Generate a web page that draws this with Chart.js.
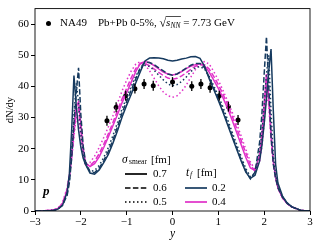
<!DOCTYPE html>
<html>
<head>
<meta charset="utf-8">
<script src="https://cdn.jsdelivr.net/npm/chart.js@4.4.1/dist/chart.umd.min.js"></script>
<style>
  html, body { margin: 0; padding: 0; background: #fff; }
  canvas { display: block; }
</style>
</head>
<body>
<canvas id="myChart" width="319" height="245"></canvas>
<script>
// rapidity grid shared by all model curves
const rapidity = [-3.0, -2.8, -2.6, -2.5, -2.4, -2.3, -2.25, -2.2, -2.15, -2.1, -2.05, -2.0, -1.95, -1.9,
  -1.8, -1.7, -1.6, -1.5, -1.4, -1.3, -1.2, -1.1, -1.0, -0.9, -0.8, -0.7, -0.6, -0.5, -0.4, -0.3, -0.2, -0.1,
  0.0, 0.1, 0.2, 0.3, 0.4, 0.5, 0.6, 0.7, 0.8, 0.9, 1.0, 1.1, 1.2, 1.3, 1.4, 1.5, 1.6, 1.7, 1.8, 1.9,
  1.95, 2.0, 2.05, 2.1, 2.15, 2.2, 2.25, 2.3, 2.4, 2.5, 2.6, 2.8, 3.0];

// t_f = 0.2 fm
const s07tf02 = [0, 0.05, 0.2, 0.6, 1.8, 6, 12, 26, 43.5, 34, 26, 20.5, 17, 15,
  12.2, 11.8, 13.2, 15.5, 18.2, 21.8, 25.8, 30.2, 34, 37.5, 41.2, 44.8, 48.2, 49.1, 49.2, 49.1, 48.9, 48.4,
  48.2, 48.4, 48.8, 49.1, 49.5, 49.6, 49.0, 46.5, 42.5, 39, 35.5, 31.8, 27.8, 23.8, 19.8, 16, 12.5, 10.5, 11.5, 16,
  21, 28, 36, 45, 52, 32, 15, 9, 4.8, 2.6, 1.4, 0.2, 0];
const s06tf02 = [0, 0.05, 0.2, 0.6, 1.8, 5, 9, 17, 28, 38, 46, 31, 21, 16,
  12.5, 12.3, 13.8, 16.2, 19.2, 22.8, 27, 31.5, 35.2, 38.8, 42.5, 46, 47.8, 47.7, 47, 46, 45, 44,
  43.6, 44, 44.9, 45.9, 46.8, 47.4, 47.4, 46, 43, 39.5, 36, 32.3, 28.3, 24.3, 20.3, 16.3, 12.8, 10.3, 12.5, 22,
  31, 44, 56, 40, 24, 15, 10.5, 7.5, 4.4, 2.5, 1.3, 0.2, 0];
const s05tf02 = [0, 0.05, 0.2, 0.6, 1.9, 5.5, 10, 19, 31, 41, 35, 25, 18.5, 15,
  12.8, 13, 14.6, 17.2, 20.4, 24.2, 28.4, 32.8, 36.4, 40, 43.4, 45.8, 46.8, 46.4, 45.2, 43.6, 42.1, 40.8,
  40.2, 40.6, 41.6, 43, 44.8, 46, 46.4, 45.6, 43.2, 40.2, 37, 33.4, 29.4, 25.4, 21.4, 17.4, 13.6, 11, 12.2, 19,
  25, 34, 44, 50, 32, 18, 11.5, 8, 4.6, 2.6, 1.4, 0.2, 0];

// t_f = 0.4 fm
const s07tf04 = [0, 0.05, 0.3, 0.8, 2.2, 6.5, 11, 18, 27, 33.5, 35, 28, 20.5, 15.5,
  14.3, 15.2, 17.4, 20.4, 23.8, 27.4, 31, 34.8, 38, 41.4, 44.8, 47.4, 48, 47.6, 46.7, 45.6, 44.6, 44,
  43.7, 44, 44.8, 45.7, 46.5, 47, 47.3, 46.6, 44.6, 42, 39.4, 36.4, 33, 29.2, 25.2, 21.2, 17.2, 13.8, 13, 18,
  24, 34, 44, 37, 25, 16, 11, 7.5, 4.2, 2.4, 1.3, 0.2, 0];
const s06tf04 = [0, 0.05, 0.3, 0.8, 2.4, 7, 11, 17, 25, 32, 33, 26, 19, 15,
  14.6, 16, 18.4, 21.4, 24.8, 28.4, 32.2, 36, 39.4, 42.8, 45.8, 47.4, 47.4, 46.6, 45.6, 44.5, 43.5, 42.7,
  42.3, 42.6, 43.4, 44.4, 45.5, 46.5, 47, 47, 45.6, 43.2, 40.6, 37.6, 34.2, 30.6, 26.6, 22.6, 18.6, 14.8, 12.8, 16.5,
  22.5, 32, 42, 36, 24, 15.5, 10.5, 7.5, 4.2, 2.4, 1.3, 0.2, 0];
const s05tf04 = [0, 0.05, 0.3, 0.9, 2.6, 7.5, 11.5, 17, 24, 30, 29.5, 23, 18, 15.5,
  15.6, 17.6, 20.4, 23.6, 27, 30.6, 34.6, 38.6, 42, 45, 47.2, 48, 47, 45, 42.6, 40.2, 38.2, 37,
  36.5, 37, 38.4, 40.4, 43, 45.4, 47.2, 48, 47.2, 44.8, 42, 38.8, 35.4, 31.8, 28, 24, 19.8, 15.8, 13.2, 16,
  20.5, 28, 38, 34, 23, 15, 10.5, 7.5, 4.2, 2.4, 1.3, 0.2, 0];

// NA49 data points
const na49Rap = [-1.43, -1.23, -1.02, -0.82, -0.62, -0.42, 0.0, 0.42, 0.62, 0.82, 1.02, 1.22, 1.43];
const na49Val = [29, 33.3, 37, 39.3, 40.8, 40.2, 41.4, 40.1, 40.8, 39.6, 37, 33.5, 29.2];
const na49Err = [1.6, 1.6, 1.6, 1.6, 1.6, 1.6, 1.6, 1.6, 1.6, 1.6, 1.6, 1.6, 1.6];

const xTicks = [-3, -2, -1, 0, 1, 2, 3];
const yTicks = [0, 10, 20, 30, 40, 50, 60];

const NAVY = '#163a5f';
const PINK = '#e030c8';
const SOLID = [];
const DASHED = [5.5, 2.4];
const DOTTED = [1.5, 2.5];
const SERIF = '"Liberation Serif", "DejaVu Serif", serif';

const toPoints = (xs, ys) => xs.map((x, i) => ({ x: x, y: ys[i] }));

const curve = (vals, color, dash) => ({
  data: toPoints(rapidity, vals),
  borderColor: color,
  borderWidth: 1.5,
  borderDash: dash,
  pointRadius: 0,
  tension: 0,
  fill: false
});

// error bars, frame and all the annotation text
const overlay = {
  id: 'overlay',
  afterDatasetsDraw(chart) {
    const { ctx, scales: { x, y } } = chart;
    ctx.save();
    ctx.strokeStyle = '#000';
    ctx.lineWidth = 1.3;
    na49Rap.forEach((r, i) => {
      const px = x.getPixelForValue(r);
      ctx.beginPath();
      ctx.moveTo(px, y.getPixelForValue(na49Val[i] - na49Err[i]));
      ctx.lineTo(px, y.getPixelForValue(na49Val[i] + na49Err[i]));
      ctx.stroke();
    });
    ctx.restore();
  },
  afterDraw(chart) {
    const { ctx, chartArea: a } = chart;
    ctx.save();
    ctx.strokeStyle = '#000';
    ctx.lineWidth = 0.9;
    ctx.strokeRect(a.left, a.top, a.right - a.left, a.bottom - a.top);

    ctx.fillStyle = '#000';
    ctx.textBaseline = 'middle';

    // axis titles
    ctx.font = 'italic 11.5px ' + SERIF;
    ctx.textAlign = 'center';
    ctx.fillText('y', (a.left + a.right) / 2, 234);
    ctx.save();
    ctx.translate(10, 110);
    ctx.rotate(-Math.PI / 2);
    ctx.font = '10.5px ' + SERIF;
    ctx.fillText('dN/dy', 0, 0);
    ctx.restore();

    ctx.textAlign = 'left';
    // top legend
    ctx.beginPath();
    ctx.arc(48.5, 23.5, 2.5, 0, Math.PI * 2);
    ctx.fill();
    ctx.font = '11px ' + SERIF;
    ctx.fillText('NA49', 60, 23.5);
    let cx = 98;
    const put = (txt, font, dy) => {
      ctx.font = font;
      ctx.fillText(txt, cx, 23.5 + (dy || 0));
      const w = ctx.measureText(txt).width;
      cx += w;
      return w;
    };
    put('Pb+Pb 0-5%, ', '11px ' + SERIF);
    put('\u221A', '12px ' + SERIF);
    const sx = cx;
    put('s', 'italic 11px ' + SERIF);
    put('NN', 'italic 7.5px ' + SERIF, 2.5);
    ctx.lineWidth = 0.7;
    ctx.beginPath();
    ctx.moveTo(sx - 0.5, 16.5);
    ctx.lineTo(cx + 0.5, 16.5);
    ctx.stroke();
    put(' = 7.73 GeV', '11px ' + SERIF);

    // sigma_smear legend
    ctx.font = 'italic 11.5px ' + SERIF;
    ctx.fillText('\u03C3', 122, 160);
    ctx.font = '7.5px ' + SERIF;
    ctx.fillText('smear', 129, 162.5);
    ctx.font = '11px ' + SERIF;
    ctx.fillText('[fm]', 151, 160);
    const styles = [SOLID, DASHED, DOTTED];
    const sigmaLabels = ['0.7', '0.6', '0.5'];
    styles.forEach((d, i) => {
      const ly = 174 + i * 14;
      ctx.strokeStyle = '#000';
      ctx.lineWidth = 1.7;
      ctx.setLineDash(d);
      ctx.beginPath();
      ctx.moveTo(125, ly);
      ctx.lineTo(147, ly);
      ctx.stroke();
      ctx.setLineDash([]);
      ctx.font = '11px ' + SERIF;
      ctx.fillText(sigmaLabels[i], 153, ly);
    });

    // t_f legend
    ctx.font = 'italic 11.5px ' + SERIF;
    ctx.fillText('t', 186, 173);
    ctx.font = 'italic 7.5px ' + SERIF;
    ctx.fillText('f', 190, 175.5);
    ctx.font = '11px ' + SERIF;
    ctx.fillText('[fm]', 197, 173);
    [[NAVY, '0.2'], [PINK, '0.4']].forEach((e, i) => {
      const ly = 188 + i * 14;
      ctx.strokeStyle = e[0];
      ctx.lineWidth = 1.7;
      ctx.beginPath();
      ctx.moveTo(185, ly);
      ctx.lineTo(207, ly);
      ctx.stroke();
      ctx.font = '11px ' + SERIF;
      ctx.fillText(e[1], 212, ly);
    });

    // particle label
    ctx.font = 'bold italic 13px ' + SERIF;
    ctx.fillText('p', 43, 192);
    ctx.restore();
  }
};

const renderChart = () => {
  const ctx = document.getElementById('myChart').getContext('2d');
  new Chart(ctx, {
    type: 'line',
    data: {
      datasets: [
        curve(s07tf02, NAVY, SOLID),
        curve(s06tf02, NAVY, DASHED),
        curve(s05tf02, NAVY, DOTTED),
        curve(s07tf04, PINK, SOLID),
        curve(s06tf04, PINK, DASHED),
        curve(s05tf04, PINK, DOTTED),
        {
          data: toPoints(na49Rap, na49Val),
          showLine: false,
          pointRadius: 2.5,
          pointBackgroundColor: '#000',
          pointBorderWidth: 0
        }
      ]
    },
    options: {
      responsive: false,
      animation: false,
      devicePixelRatio: 1,
      layout: { padding: { left: 0, right: 9, top: 5, bottom: 0 } },
      plugins: { legend: { display: false }, tooltip: { enabled: false } },
      scales: {
        x: {
          type: 'linear',
          min: -3,
          max: 3,
          afterBuildTicks: (s) => { s.ticks = xTicks.map(v => ({ value: v })); },
          afterFit: (s) => { s.height = 34; },
          border: { display: false },
          grid: { drawOnChartArea: false, drawTicks: true, tickLength: 4, color: '#000' },
          ticks: {
            color: '#000',
            padding: 1,
            maxRotation: 0,
            font: { family: SERIF, size: 11 },
            callback: (v) => String(v).replace('-', '\u2212')
          }
        },
        y: {
          type: 'linear',
          min: 0,
          max: 65,
          afterBuildTicks: (s) => { s.ticks = yTicks.map(v => ({ value: v })); },
          afterFit: (s) => { s.width = 35; },
          border: { display: false },
          grid: { drawOnChartArea: false, drawTicks: true, tickLength: 4, color: '#000' },
          ticks: {
            color: '#000',
            padding: 2,
            font: { family: SERIF, size: 11 }
          }
        }
      }
    },
    plugins: [overlay]
  });
};

document.addEventListener('DOMContentLoaded', renderChart);
</script>
</body>
</html>
